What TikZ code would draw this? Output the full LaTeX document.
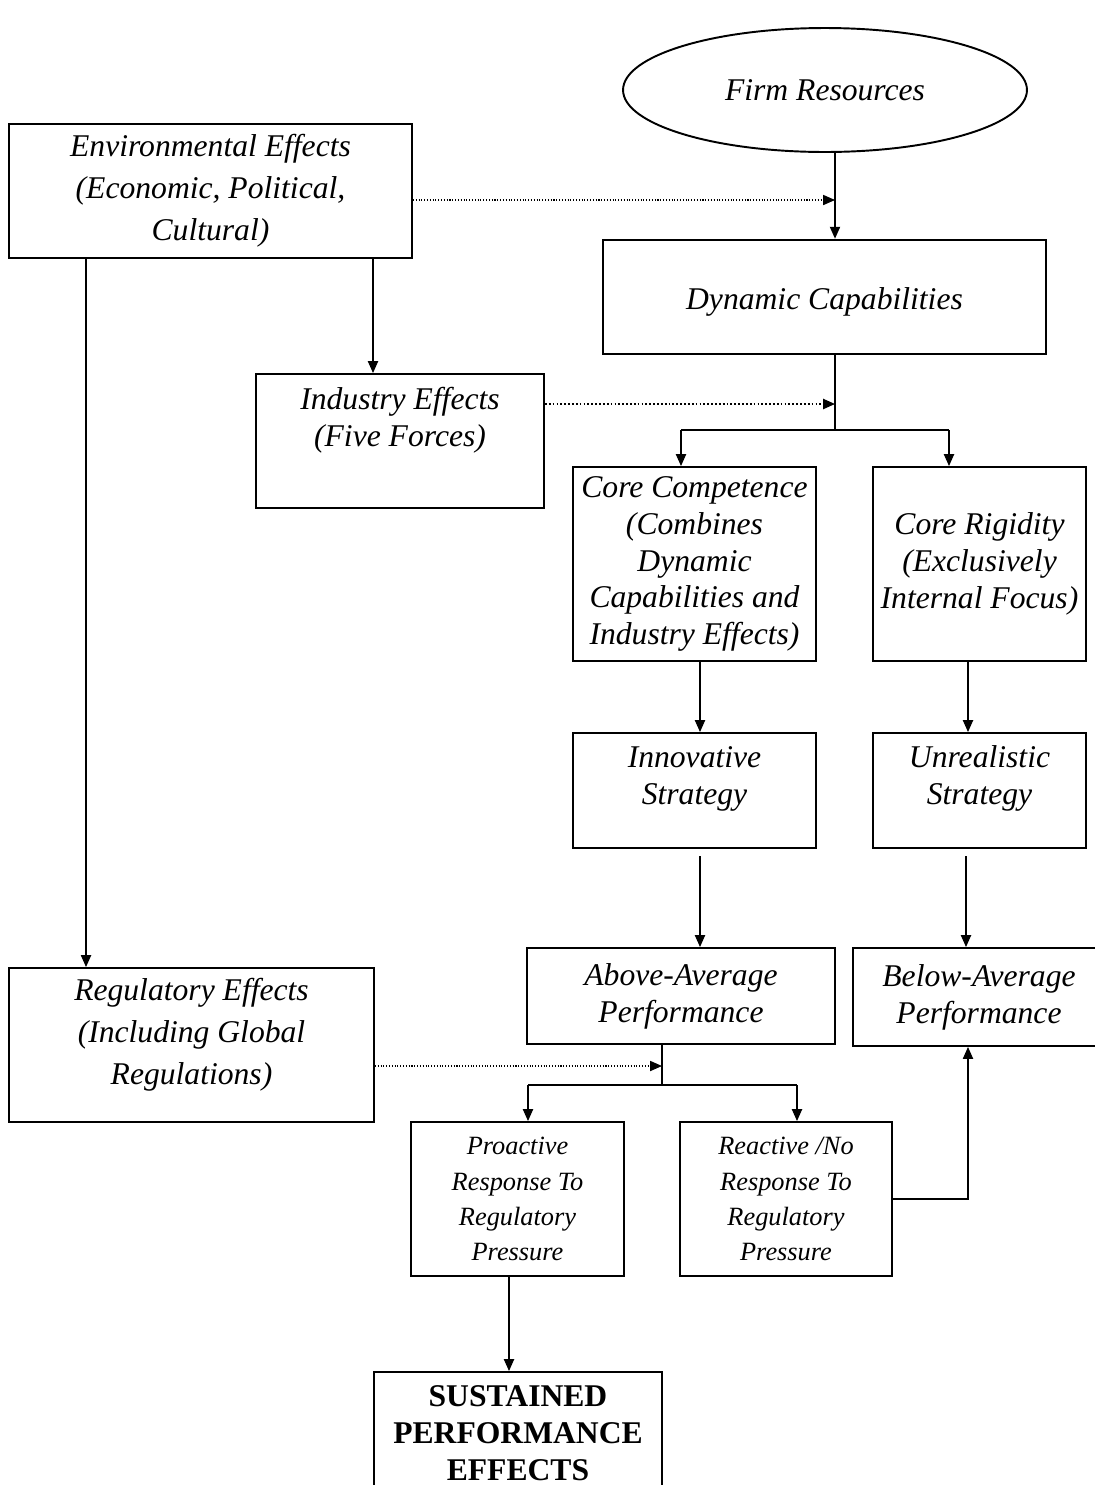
\documentclass[tikz,border=0pt]{standalone}
\usepackage{fontspec}
\setmainfont{Liberation Serif}
\usetikzlibrary{shapes.geometric, arrows.meta}

\begin{document}
\begin{tikzpicture}[x=0.02cm, y=-0.02cm,
    box/.style={draw, line width=1.1pt, align=center, inner sep=0pt,
        font=\itshape\fontsize{18}{21}\selectfont},
    widebox/.style={box, font=\itshape\fontsize{18}{24}\selectfont},
    smallbox/.style={box, font=\itshape\fontsize{15}{20}\selectfont},
    arr/.style={line width=0.85pt, -{Triangle[length=6.8pt, width=5.8pt]}},
    dots/.style={line width=0.6pt, densely dotted, -{Triangle[length=6.8pt, width=5.8pt]}},
    bigdots/.style={line width=1pt, dash pattern=on 1pt off 1.2pt, -{Triangle[length=6.8pt, width=5.8pt]}}]
    \useasboundingbox (0,0) rectangle (1095,1485);

    % Firm resources
    \node[draw, ellipse, line width=1.1pt, inner sep=0pt, minimum width=8.08cm, minimum height=2.48cm,
        font=\itshape\fontsize{18}{21}\selectfont] (fr) at (825,90) {Firm Resources};

    % Outside effects
    \node[widebox, minimum width=8.06cm, minimum height=2.68cm] (env) at (210.5,191)
        {Environmental Effects\\(Economic, Political,\\Cultural)};
    \node[box, minimum width=5.76cm, minimum height=2.68cm] (ind) at (400,441)
        {Industry Effects\\(Five Forces)\\\strut};
    \node[widebox, minimum width=7.30cm, minimum height=3.08cm] (reg) at (191.5,1045)
        {Regulatory Effects\\(Including Global\\Regulations)\\[-16pt]\strut};

    % Capabilities
    \node[box, line width=1.5pt, minimum width=8.86cm, minimum height=2.28cm] (dyn) at (824.5,297)
        {\raisebox{-3pt}[\height][\depth]{Dynamic Capabilities}};
    \node[box, minimum width=4.86cm, minimum height=3.88cm] (cc) at (694.5,564)
        {Core Competence\\(Combines\\Dynamic\\Capabilities and\\Industry Effects)};
    \node[box, minimum width=4.26cm, minimum height=3.88cm] (cr) at (979.5,564)
        {Core Rigidity\\(Exclusively\\Internal Focus)};

    % Strategies
    \node[box, minimum width=4.86cm, minimum height=2.30cm] (inn) at (694.5,790.5)
        {Innovative\\Strategy\\[-10pt]\strut};
    \node[box, minimum width=4.26cm, minimum height=2.30cm] (unr) at (979.5,790.5)
        {Unrealistic\\Strategy\\[-10pt]\strut};

    % Performance
    \node[box, minimum width=6.16cm, minimum height=1.92cm] (above) at (681,996)
        {Above-Average\\Performance};
    \node[box, minimum width=5.04cm, minimum height=1.96cm] (below) at (979,997)
        {Below-Average\\Performance};

    % Responses to regulation
    \node[smallbox, minimum width=4.26cm, minimum height=3.08cm] (pro) at (517.5,1199)
        {Proactive\\Response To\\Regulatory\\Pressure};
    \node[smallbox, minimum width=4.24cm, minimum height=3.08cm] (rea) at (786,1199)
        {Reactive /No\\Response To\\Regulatory\\Pressure};
    \node[box, font=\bfseries\fontsize{18}{21}\selectfont, minimum width=5.76cm, minimum height=2.46cm] (sus)
        at (518,1433.5) {SUSTAINED\\PERFORMANCE\\EFFECTS};

    % Junction points
    \coordinate (j1) at (835,200);
    \coordinate (j2) at (835,404);
    \coordinate (j3) at (835,430);
    \coordinate (s1) at (681,430);
    \coordinate (s2) at (949,430);
    \coordinate (j4) at (662,1066);
    \coordinate (j5) at (662,1085);
    \coordinate (p1) at (528,1085);
    \coordinate (p2) at (797,1085);

    % Resources into capabilities
    \draw[arr] (fr.south -| j1) -- (dyn.north -| j1);
    \draw[dots] (env.east |- j1) -- (j1);

    % Environment down to industry and regulation
    \draw[arr] ([xshift=-0.54cm]ind.north |- env.south) -- ([xshift=-0.54cm]ind.north);
    \draw[arr] ([xshift=-2.11cm]reg.north |- env.south) -- ([xshift=-2.11cm]reg.north);

    % Capabilities split
    \draw[line width=0.85pt] (dyn.south -| j3) -- (j3);
    \draw[bigdots] (j2 -| ind.east) -- (j2);
    \draw[line width=0.85pt] (s1) -- (s2);
    \draw[arr] (s1) -- (s1 |- cc.north);
    \draw[arr] (s2) -- (s2 |- cr.north);

    % Down the two columns
    \draw[arr] ([xshift=0.11cm]cc.south) -- ([xshift=0.11cm]inn.north);
    \draw[arr] ([xshift=-0.23cm]cr.south) -- ([xshift=-0.23cm]unr.north);
    \draw[arr, shorten <=5\pgflinewidth] ([xshift=0.11cm]inn.south) -- ([xshift=0.11cm]inn.south |- above.north);
    \draw[arr, shorten <=5\pgflinewidth] ([xshift=-0.27cm]unr.south) -- ([xshift=-0.27cm]unr.south |- below.north);

    % Regulation meets performance
    \draw[line width=0.85pt] (above.south -| j5) -- (j5);
    \draw[dots] (reg.east |- j4) -- (j4);
    \draw[line width=0.85pt] (p1) -- (p2);
    \draw[arr] (p1) -- (p1 |- pro.north);
    \draw[arr] (p2) -- (p2 |- rea.north);

    % Outcomes of the responses
    \draw[arr] (rea.east) -| ([xshift=-0.22cm]below.south);
    \draw[arr] ([xshift=-0.17cm]pro.south) -- ([xshift=-0.17cm]pro.south |- sus.north);
\end{tikzpicture}
\end{document}
